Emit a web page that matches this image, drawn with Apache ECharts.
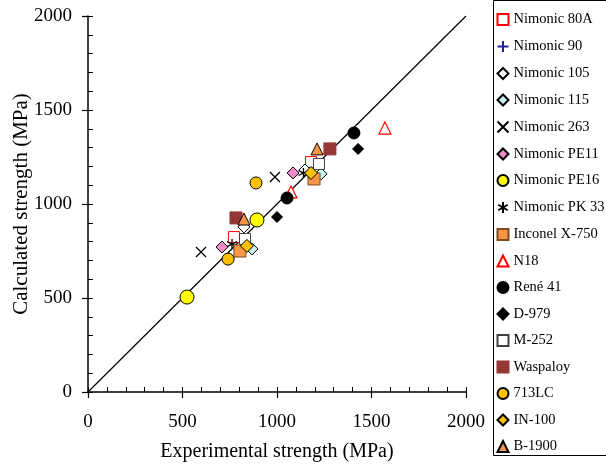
<!DOCTYPE html>
<html><head><meta charset="utf-8">
<script src="https://cdn.jsdelivr.net/npm/echarts@6/dist/echarts.min.js"></script>
<style>html,body{margin:0;padding:0;background:#fff}#c{width:606px;height:468px}</style>
</head><body><div id="c"></div>
<script>
const axisTicks = [0, 500, 1000, 1500, 2000];
const names = ['Nimonic 80A','Nimonic 90','Nimonic 105','Nimonic 115','Nimonic 263','Nimonic PE11','Nimonic PE16','Nimonic PK 33','Inconel X-750','N18','René 41','D-979','M-252','Waspaloy','713LC','IN-100','B-1900'];
const nimonic80A = [[772,824],[1180,1223]];
const nimonic90 = [[794,755],[1185,1144]];
const nimonic105 = [[825,878],[1148,1181]];
const nimonic115 = [[868,761],[1233,1160]];
const nimonic263 = [[598,745],[989,1144]];
const nimonicPE11 = [[709,771],[1085,1165]];
const nimonicPE16 = [[524,505],[894,915]];
const nimonicPK33 = [[762,787],[1140,1165]];
const inconelX750 = [[804,750],[1196,1133]];
const n18 = [[1074,1064],[1571,1404]];
const rene41 = [[1053,1032],[1407,1378]];
const d979 = [[1000,931],[1429,1293]];
const m252 = [[831,814],[1222,1213]];
const waspaloy = [[783,926],[1280,1293]];
const lc713 = [[741,707],[889,1112]];
const in100 = [[841,777],[1180,1165]];
const b1900 = [[825,920],[1212,1293]];
const diagonal = [[0,0],[2000,2000]];

const seriesData = [nimonic80A,nimonic90,nimonic105,nimonic115,nimonic263,nimonicPE11,nimonicPE16,nimonicPK33,inconelX750,n18,rene41,d979,m252,waspaloy,lc713,in100,b1900];
const styles = [
  {symbol:'rect', size:11, color:'#fff', border:'#ff0000', bw:1},
  {symbol:'path://M5,0L5,10M0,5L10,5', size:9, color:'none', border:'#1f1f9f', bw:1.3},
  {symbol:'diamond', size:12, color:'#fff', border:'#000', bw:1},
  {symbol:'diamond', size:12, color:'#c6f0f0', border:'#000', bw:1},
  {symbol:'path://M0,0L10,10M10,0L0,10', size:10, color:'none', border:'#000', bw:1.3},
  {symbol:'diamond', size:12, color:'#f28cc8', border:'#000', bw:1},
  {symbol:'circle', size:14, color:'#ffff00', border:'#000', bw:1},
  {symbol:'path://M5,0L5,10M0.7,2.5L9.3,7.5M9.3,2.5L0.7,7.5', size:10, color:'none', border:'#000', bw:1.3},
  {symbol:'rect', size:12, color:'#f79646', border:'#7f4a1e', bw:1},
  {symbol:'triangle', size:12, color:'#fff', border:'#ff0000', bw:1.2},
  {symbol:'circle', size:12, color:'#000', border:'#000', bw:1},
  {symbol:'diamond', size:11, color:'#000', border:'#000', bw:1},
  {symbol:'rect', size:11, color:'#fff', border:'#404040', bw:1},
  {symbol:'rect', size:12, color:'#953735', border:'#953735', bw:1},
  {symbol:'circle', size:12, color:'#ffc000', border:'#000', bw:1},
  {symbol:'diamond', size:13, color:'#ffc000', border:'#000', bw:1},
  {symbol:'triangle', size:12, color:'#f79646', border:'#000', bw:1}
];
const font = "'Liberation Serif', 'Times New Roman', serif";
const chart = echarts.init(document.getElementById('c'));
const series = [{
  type:'line', data: diagonal, symbol:'none', silent:true, xAxisIndex:0, yAxisIndex:0,
  lineStyle:{color:'#000', width:1.2}, z:1
}];
names.forEach((n,i)=>{
  const s = styles[i];
  series.push({
    type:'scatter', name:n, data:seriesData[i], symbol:s.symbol, symbolSize:s.size,
    itemStyle:{color:s.color, borderColor:s.border, borderWidth:s.bw, opacity:1},
    z:2+i
  });
});
const labelFmt = v => axisTicks.includes(v) ? String(v) : '';
chart.setOption({
  animation:false,
  backgroundColor:'#fff',
  grid:{left:88, right:140, top:16, bottom:76, containLabel:false, outerBoundsMode:'none'},
  xAxis:[{
    type:'value', min:0, max:2000, interval:500,
    axisLine:{lineStyle:{color:'#000', width:1.5}},
    axisTick:{show:true, length:6, lineStyle:{color:'#000', width:1.2}},
    splitLine:{show:false},
    axisLabel:{color:'#000', fontFamily:font, fontSize:19, margin:21, formatter:labelFmt},
    name:'Experimental strength (MPa)', nameLocation:'middle', nameGap:50, nameMoveOverlap:false,
    nameTextStyle:{color:'#000', fontFamily:font, fontSize:20}
  },{
    type:'value', min:0, max:2000, interval:100, position:'bottom',
    axisLine:{show:false}, axisLabel:{show:false}, splitLine:{show:false},
    axisTick:{show:true, inside:true, length:5, lineStyle:{color:'#000', width:1}}
  }],
  yAxis:[{
    type:'value', min:0, max:2000, interval:500,
    axisLine:{lineStyle:{color:'#000', width:1.5}},
    axisTick:{show:true, length:6, lineStyle:{color:'#000', width:1.2}},
    splitLine:{show:false},
    axisLabel:{color:'#000', fontFamily:font, fontSize:19, margin:16, formatter:labelFmt},
    name:'Calculated strength (MPa)', nameLocation:'middle', nameGap:56, nameMoveOverlap:false,
    nameTextStyle:{color:'#000', fontFamily:font, fontSize:21}
  },{
    type:'value', min:0, max:2000, interval:100, position:'left',
    axisLine:{show:false}, axisLabel:{show:false}, splitLine:{show:false},
    axisTick:{show:true, inside:true, length:5, lineStyle:{color:'#000', width:1}}
  }],
  legend:{
    orient:'vertical', left:495, top:12, itemWidth:11, itemHeight:11, itemGap:11.5, itemTextGap:3,
    data:names, selectedMode:false,
    textStyle:{color:'#000', fontFamily:font, fontSize:14.5},
    padding:0
  },
  graphic:[{type:'rect', shape:{x:493.5, y:0.5, width:140, height:455}, style:{fill:'none', stroke:'#000', lineWidth:1}, z:0}],
  series: series
});
</script></body></html>
